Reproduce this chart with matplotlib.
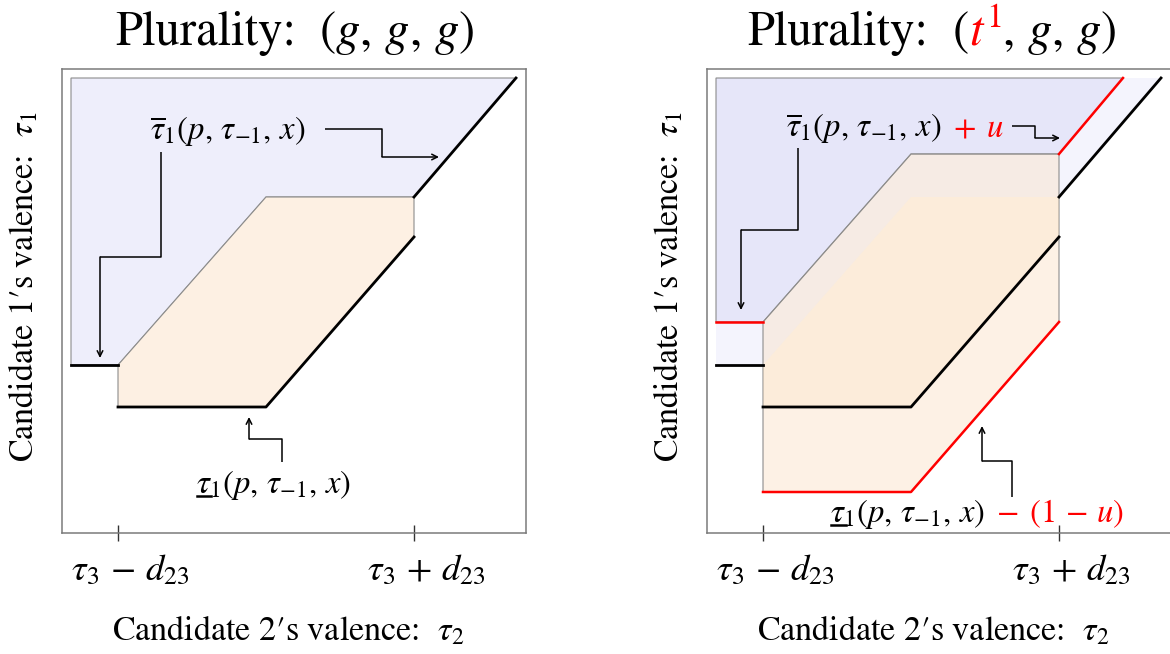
import matplotlib as mpl
mpl.use('agg')
import matplotlib.pyplot as plt
import numpy as np
from matplotlib.patches import Polygon
from matplotlib.lines import Line2D
from matplotlib.transforms import IdentityTransform, ScaledTranslation

plt.rcParams['font.family'] = 'serif'
plt.rcParams['font.serif'] = ['STIXGeneral', 'DejaVu Serif']
plt.rcParams['mathtext.fontset'] = 'stix'

# panel geometry (axis units, box is 0..464 both ways)
box = 464
left_x = 9
top_y = 455
tick_pos = [56, 352]
tick_labels = [r'$\tau_3\,-\,d_{23}$', r'$\tau_3\,+\,d_{23}$']

# upper cutoff tau-bar and lower cutoff tau-underbar (g, g, g)
bar_x = [9, 56, 204, 352, 454]
bar_y = [168, 168, 336, 336, 455]
low_x = [56, 204, 352]
low_y = [126, 126, 296]

# shifted cutoffs for (t^1, g, g)
bar_u_x = [9, 56, 204, 352, 416]
bar_u_y = [211, 211, 379, 379, 455]
low_u_x = [56, 204, 352]
low_u_y = [41, 41, 211]

# annotation arrows (elbow paths ending at the arrow tip)
arrows_left = [
    ([263, 320, 320, 377], [404, 404, 376, 376]),
    ([99, 99, 38, 38], [381, 276, 276, 175]),
    ([220, 220, 187, 187], [71, 94, 94, 116]),
]
arrows_right = [
    ([305, 328, 328, 353], [407, 407, 395, 395]),
    ([91, 91, 34, 34], [385, 303, 303, 223]),
    ([305, 305, 275, 275], [36, 72, 72, 107]),
]

blue = '#eeeefb'
blue_dark = '#e6e6f9'
blue_light = '#f4f4fd'
orange = '#fdf0e3'
edge = '#8c8c8c'
red = '#ff0000'

fig = plt.figure(figsize=(11.7, 6.54), dpi=100)
W, H = 1170, 654
axL = fig.add_axes([62 / W, 121 / H, box / W, box / H])
axR = fig.add_axes([707 / W, 121 / H, box / W, box / H])


def setup(ax):
    ax.set_xlim(0, box)
    ax.set_ylim(0, box)
    for s in ax.spines.values():
        s.set_color('#7a7a7a')
        s.set_linewidth(1.1)
    ax.set_yticks([])
    ax.set_xticks(tick_pos)
    ax.set_xticklabels(tick_labels, fontsize=26.5)
    ax.tick_params(axis='x', direction='inout', length=11, width=1.0,
                   color='#333333', pad=10)
    for lab in ax.get_xticklabels():
        lab.set_transform(lab.get_transform()
                          + ScaledTranslation(9 / 72, 0, fig.dpi_scale_trans))


def region_above(xs, ys):
    pts = [(left_x, top_y), (xs[-1], top_y)]
    pts += list(zip(xs[::-1], ys[::-1]))
    return pts


def region_between(xs, ys, lx, ly):
    pts = list(zip(xs[1:4], ys[1:4]))
    pts += list(zip(lx[::-1], ly[::-1]))
    return pts


def draw_arrows(ax, arrows):
    for xs, ys in arrows:
        ax.plot(xs[:-1], ys[:-1], color='k', lw=1.1, solid_capstyle='butt')
        ax.annotate('', xy=(xs[-1], ys[-1]), xytext=(xs[-2], ys[-2]),
                    arrowprops=dict(arrowstyle='->', lw=1.1, color='k',
                                    shrinkA=0, shrinkB=0,
                                    mutation_scale=10))


def rich(ax, x, y, pieces, size, trans, under=False):
    # pieces: (text, colour); centred on x, sitting on baseline y
    texts = [ax.text(0, 0, s, color=c, fontsize=size, ha='left', va='baseline',
                     transform=IdentityTransform(), clip_on=False)
             for s, c in pieces]
    fig.canvas.draw()
    r = fig.canvas.get_renderer()
    widths = [t.get_window_extent(r).width for t in texts]
    px, py = trans.transform((x, y))
    cur = px - sum(widths) / 2
    start = cur
    for t, w in zip(texts, widths):
        t.set_position((cur, py))
        cur += w
    if under:
        tmp = ax.text(0, 0, r'$\tau$', fontsize=size, transform=IdentityTransform())
        tw = tmp.get_window_extent(r).width
        tmp.remove()
        fig.add_artist(Line2D([start + 1, start + tw], [py - 3, py - 3],
                              color='k', lw=1.8, transform=IdentityTransform()))
    return texts


setup(axL)
setup(axR)

# ---- left panel: (g, g, g)
axL.add_patch(Polygon(region_above(bar_x, bar_y), closed=True, fc=blue,
                      ec=edge, lw=0.8))
axL.add_patch(Polygon(region_between(bar_x, bar_y, low_x, low_y), closed=True,
                      fc=orange, ec=edge, lw=0.8))
axL.plot(bar_x[:2], bar_y[:2], color='k', lw=2.0)
axL.plot(bar_x[3:], bar_y[3:], color='k', lw=2.0)
axL.plot(low_x, low_y, color='k', lw=2.0)
draw_arrows(axL, arrows_left)

# ---- right panel: (t^1, g, g)
axR.add_patch(Polygon(region_above(bar_x, bar_y), closed=True, fc=blue_light,
                      ec='none'))
axR.add_patch(Polygon(region_above(bar_u_x, bar_u_y), closed=True, fc=blue_dark,
                      ec=edge, lw=0.8))
axR.add_patch(Polygon(region_between(bar_u_x, bar_u_y, low_u_x, low_u_y),
                      closed=True, fc=(0.98, 0.87, 0.75, 0.4), ec=edge, lw=0.8))
axR.add_patch(Polygon(region_between(bar_x, bar_y, low_x, low_y), closed=True,
                      fc=(0.98, 0.88, 0.74, 0.25), ec='none'))
axR.plot(bar_x[:2], bar_y[:2], color='k', lw=2.0)
axR.plot(bar_x[3:], bar_y[3:], color='k', lw=2.0)
axR.plot(low_x, low_y, color='k', lw=2.0)
axR.plot(bar_u_x[:2], bar_u_y[:2], color=red, lw=1.8)
axR.plot(bar_u_x[3:], bar_u_y[3:], color=red, lw=1.8)
axR.plot(low_u_x, low_u_y, color=red, lw=1.8)
draw_arrows(axR, arrows_right)

# ---- text
lab = 23.5
rich(axL, 166, 393, [(r'$\overline{\tau}_1(p,\,\tau_{-1},\,x)$', 'k')], lab, axL.transData)
rich(axL, 211, 40, [(r'$\tau_1(p,\,\tau_{-1},\,x)$', 'k')], lab, axL.transData, under=True)
rich(axR, 188, 396, [(r'$\overline{\tau}_1(p,\,\tau_{-1},\,x)$', 'k'),
                     (r'$\;+\;u$', red)], lab, axR.transData)
rich(axR, 270, 11, [(r'$\tau_1(p,\,\tau_{-1},\,x)$', 'k'),
                    (r'$\;-\;(1\,-\,u)$', red)], lab, axR.transData, under=True)

rich(axL, 295, H - 45, [('Plurality:', 'k'), (r'$\ \ (g,\,g,\,g)$', 'k')], 35,
     IdentityTransform())
rich(axR, 932, H - 45, [('Plurality:', 'k'), (r'$\ \ ($', 'k'), (r'$t^1$', red),
                        (r'$,\,g,\,g)$', 'k')], 35, IdentityTransform())

for xc, yc in [(25, H - 287), (670, H - 287)]:
    fig.text(xc / W, yc / H, 'Candidate 1\u2032s valence:  $\\tau_1$', fontsize=24.5,
             rotation=90, ha='center', va='center')
for xc in [288, 933]:
    fig.text(xc / W, (H - 632) / H, 'Candidate 2\u2032s valence:  $\\tau_2$',
             fontsize=24.5, ha='center', va='center')

fig.savefig('out.png', dpi=100)
